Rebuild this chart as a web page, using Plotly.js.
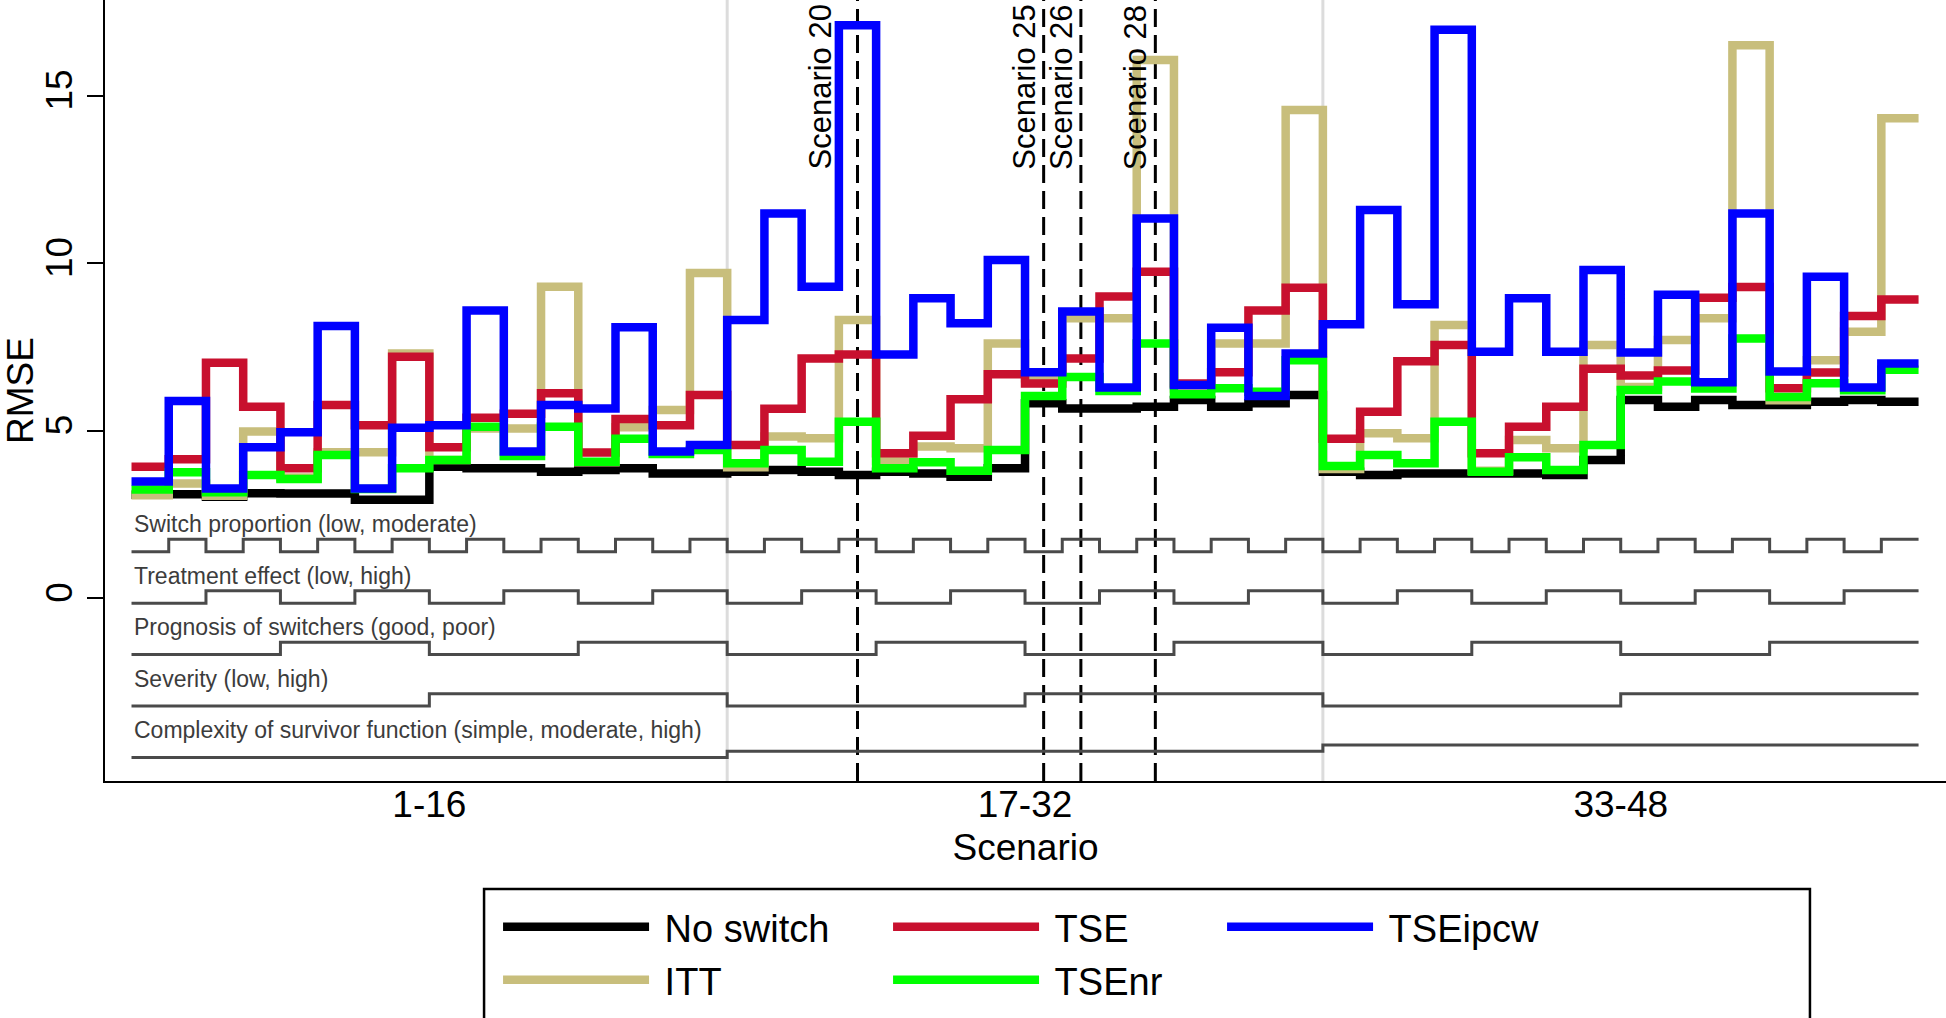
<!DOCTYPE html>
<html>
<head>
<meta charset="utf-8">
<script src="https://cdn.plot.ly/plotly-3.0.1.min.js"></script>
<style>
  html, body { margin: 0; padding: 0; background: #fff; }
  #rmseChart { width: 1946px; height: 1018px; }
</style>
</head>
<body>
<div id="rmseChart"></div>
<script>
// Scenario numbers, in three blocks of 16
const scenarios = [1, 2, 3, 4, 5, 6, 7, 8, 9, 10, 11, 12, 13, 14, 15, 16,
  17, 18, 19, 20, 21, 22, 23, 24, 25, 26, 27, 28, 29, 30, 31, 32,
  33, 34, 35, 36, 37, 38, 39, 40, 41, 42, 43, 44, 45, 46, 47, 48];
const groupLabels = ["1-16", "17-32", "33-48"];
const markedScenarios = [20, 25, 26, 28];

// RMSE per scenario
const noSwitch = [3.08, 3.10, 3.02, 3.13, 3.12, 3.12, 2.93, 2.93, 3.92, 3.87, 3.87, 3.77, 3.82, 3.87, 3.72, 3.72,
  3.77, 3.82, 3.77, 3.67, 3.77, 3.72, 3.62, 3.87, 5.81, 5.66, 5.66, 5.71, 5.91, 5.71, 5.81, 6.06,
  3.77, 3.67, 3.72, 3.72, 3.72, 3.72, 3.67, 4.12, 5.91, 5.71, 5.91, 5.76, 5.76, 5.86, 5.91, 5.86];
const itt = [3.07, 3.42, 3.05, 4.97, 3.60, 4.35, 4.35, 7.30, 4.12, 5.06, 5.06, 9.29, 4.05, 5.10, 5.61, 9.70,
  3.90, 4.82, 4.77, 8.30, 4.10, 4.52, 4.47, 7.60, 6.56, 8.35, 8.35, 16.06, 6.25, 7.60, 7.60, 14.57,
  3.85, 4.92, 4.77, 8.15, 3.80, 4.72, 4.47, 7.55, 6.30, 7.70, 8.35, 16.50, 5.90, 7.10, 7.95, 14.32];
const tse = [3.92, 4.14, 7.02, 5.71, 3.87, 5.76, 5.16, 7.20, 4.50, 5.38, 5.50, 6.11, 4.34, 5.34, 5.16, 6.06,
  4.57, 5.65, 7.15, 7.27, 4.32, 4.84, 5.93, 6.68, 6.40, 7.15, 9.00, 9.74, 6.40, 6.74, 8.58, 9.26,
  4.75, 5.56, 7.07, 7.55, 4.32, 5.11, 5.71, 6.84, 6.64, 6.79, 8.96, 9.28, 6.26, 6.73, 8.42, 8.91];
const tseNr = [3.24, 3.75, 3.16, 3.67, 3.55, 4.27, 3.25, 3.87, 4.12, 5.11, 4.24, 5.11, 4.07, 4.75, 4.30, 4.42,
  4.02, 4.42, 4.07, 5.26, 3.87, 4.05, 3.80, 4.42, 6.03, 6.60, 6.18, 7.60, 6.08, 6.26, 6.16, 7.10,
  3.94, 4.27, 4.02, 5.26, 3.77, 4.20, 3.82, 4.57, 6.21, 6.46, 6.25, 7.75, 6.00, 6.41, 6.20, 6.81];
const tseIpcw = [3.48, 5.88, 3.27, 4.50, 4.95, 8.12, 3.27, 5.08, 5.16, 8.58, 4.37, 5.76, 5.66, 8.08, 4.37, 4.57,
  8.30, 11.48, 9.29, 17.10, 7.27, 8.95, 8.20, 10.09, 6.74, 8.55, 6.28, 11.33, 6.36, 8.07, 6.03, 7.30,
  8.17, 11.58, 8.77, 16.96, 7.35, 8.95, 7.35, 9.79, 7.33, 9.05, 6.44, 11.48, 6.76, 9.59, 6.28, 7.00];

// Simulation design factors (level index per scenario)
const factorNames = [
  "Switch proportion (low, moderate)",
  "Treatment effect (low, high)",
  "Prognosis of switchers (good, poor)",
  "Severity (low, high)",
  "Complexity of survivor function (simple, moderate, high)"
];
const switchProportion = [0, 1, 0, 1, 0, 1, 0, 1, 0, 1, 0, 1, 0, 1, 0, 1,
  0, 1, 0, 1, 0, 1, 0, 1, 0, 1, 0, 1, 0, 1, 0, 1,
  0, 1, 0, 1, 0, 1, 0, 1, 0, 1, 0, 1, 0, 1, 0, 1];
const treatmentEffect = [0, 0, 1, 1, 0, 0, 1, 1, 0, 0, 1, 1, 0, 0, 1, 1,
  0, 0, 1, 1, 0, 0, 1, 1, 0, 0, 1, 1, 0, 0, 1, 1,
  0, 0, 1, 1, 0, 0, 1, 1, 0, 0, 1, 1, 0, 0, 1, 1];
const prognosis = [0, 0, 0, 0, 1, 1, 1, 1, 0, 0, 0, 0, 1, 1, 1, 1,
  0, 0, 0, 0, 1, 1, 1, 1, 0, 0, 0, 0, 1, 1, 1, 1,
  0, 0, 0, 0, 1, 1, 1, 1, 0, 0, 0, 0, 1, 1, 1, 1];
const severity = [0, 0, 0, 0, 0, 0, 0, 0, 1, 1, 1, 1, 1, 1, 1, 1,
  0, 0, 0, 0, 0, 0, 0, 0, 1, 1, 1, 1, 1, 1, 1, 1,
  0, 0, 0, 0, 0, 0, 0, 0, 1, 1, 1, 1, 1, 1, 1, 1];
const complexity = [0, 0, 0, 0, 0, 0, 0, 0, 0, 0, 0, 0, 0, 0, 0, 0,
  1, 1, 1, 1, 1, 1, 1, 1, 1, 1, 1, 1, 1, 1, 1, 1,
  2, 2, 2, 2, 2, 2, 2, 2, 2, 2, 2, 2, 2, 2, 2, 2];
const factorLevels = [switchProportion, treatmentEffect, prognosis, severity, complexity];

const FONT = "Liberation Sans, Arial, Helvetica, sans-serif";
const n = scenarios.length;
const groupSize = n / groupLabels.length;

// each scenario is drawn as a flat step from s-0.5 to s+0.5
function stepX() {
  const x = scenarios.map(s => s - 0.5);
  x.push(scenarios[n - 1] + 0.5);
  return x;
}
function stepY(vals) {
  return vals.concat([vals[vals.length - 1]]);
}

function seriesTrace(vals, name, color, legendId, entryWidth) {
  return {
    x: stepX(),
    y: stepY(vals),
    name: "\u00a0" + name,   // small gap after the legend sample, as in the original
    mode: "lines",
    line: { color: color, width: 8.5, shape: "hv" },
    legend: legendId,
    legendwidth: entryWidth,
    hoverinfo: "skip"
  };
}

// factor indicator strips below zero
const factorTop = 1.38;     // y of lowest level of first factor
const factorGap = 1.535;    // vertical distance between factors
const factorSpan = 0.37;    // distance between lowest and highest level
const factorTraces = factorLevels.map((levels, k) => {
  const nLev = Math.max(...levels);
  const base = factorTop - k * factorGap;
  return {
    x: stepX(),
    y: stepY(levels.map(l => base + l * factorSpan / nLev)),
    mode: "lines",
    line: { color: "#4a4a4a", width: 3, shape: "hv" },
    showlegend: false,
    hoverinfo: "skip"
  };
});

const factorLabels = factorNames.map((txt, k) => ({
  text: txt,
  x: scenarios[0] - 0.5,
  xref: "x",
  xanchor: "left",
  y: factorTop - k * factorGap + 0.82,
  yref: "y",
  yanchor: "middle",
  showarrow: false,
  font: { family: FONT, size: 23, color: "#3c3c3c" }
}));

const labelShift = [-18, 0, 0, 0];
const scenarioLabels = markedScenarios.map((s, i) => ({
  text: "Scenario " + s,
  x: s,
  xref: "x",
  xanchor: "right",
  xshift: labelShift[i],
  y: 1,
  yref: "paper",
  yanchor: "top",
  yshift: -3,
  textangle: -90,
  showarrow: false,
  font: { family: FONT, size: 31, color: "#000" }
}));

const dashedLines = markedScenarios.map(s => ({
  type: "line",
  xref: "x", yref: "paper",
  x0: s, x1: s, y0: 0, y1: 1,
  layer: "below",
  line: { color: "#000", width: 3, dash: "18px,8px" }
}));

const blockLines = groupLabels.slice(1).map((g, i) => ({
  type: "line",
  xref: "x", yref: "paper",
  x0: (i + 1) * groupSize + 0.5, x1: (i + 1) * groupSize + 0.5, y0: 0, y1: 1,
  layer: "below",
  line: { color: "#dcdcdc", width: 3 }
}));

const legendBox = {
  type: "rect",
  xref: "paper", yref: "paper",
  x0: 0.2059, x1: 0.9261, y0: -0.1383, y1: -0.36,
  line: { color: "#000", width: 2.5 },
  fillcolor: "rgba(0,0,0,0)"
};

const traces = factorTraces.concat([
  seriesTrace(noSwitch, "No switch", "#000000", "legend", 229),
  seriesTrace(itt, "ITT", "#C8BE7C", "legend2", 229),
  seriesTrace(tse, "TSE", "#C8102E", "legend", 173),
  seriesTrace(tseNr, "TSEnr", "#00FF00", "legend2", 173),
  seriesTrace(tseIpcw, "TSEipcw", "#0000FF", "legend", 173)
]);

const legendCommon = {
  orientation: "h",
  xanchor: "left",
  yanchor: "middle",
  itemwidth: 146,
  bgcolor: "rgba(0,0,0,0)",
  borderwidth: 0,
  font: { family: FONT, size: 38, color: "#000" }
};

const layout = {
  width: 1946,
  height: 1018,
  margin: { l: 105, r: 0, t: 0, b: 237 },
  paper_bgcolor: "#fff",
  plot_bgcolor: "rgba(0,0,0,0)",
  font: { family: FONT, color: "#000" },
  showlegend: true,
  legend: Object.assign({ x: 0.2135, y: -0.187 }, legendCommon),
  legend2: Object.assign({ x: 0.2135, y: -0.2548 }, legendCommon),
  xaxis: {
    range: [-0.212, 49.237],
    tickvals: groupLabels.map((g, i) => i * groupSize + (groupSize + 1) / 2),
    ticktext: groupLabels,
    ticks: "",
    ticklabelstandoff: -10,
    showgrid: false,
    zeroline: false,
    showline: true,
    linecolor: "#000",
    linewidth: 2,
    tickfont: { family: FONT, size: 37 },
    title: { text: "Scenario", font: { family: FONT, size: 37 }, standoff: 10 }
  },
  yaxis: {
    range: [-5.463, 17.851],
    tickvals: [0, 5, 10, 15],
    tickangle: -90,
    ticks: "outside",
    ticklen: 16,
    tickwidth: 2,
    tickcolor: "#000",
    showgrid: false,
    zeroline: false,
    showline: true,
    linecolor: "#000",
    linewidth: 2,
    tickfont: { family: FONT, size: 37 },
    title: { text: "RMSE", font: { family: FONT, size: 37 } }
  },
  shapes: blockLines.concat(dashedLines, [legendBox]),
  annotations: factorLabels.concat(scenarioLabels)
};

Plotly.newPlot("rmseChart", traces, layout, { staticPlot: true });
</script>
</body>
</html>
